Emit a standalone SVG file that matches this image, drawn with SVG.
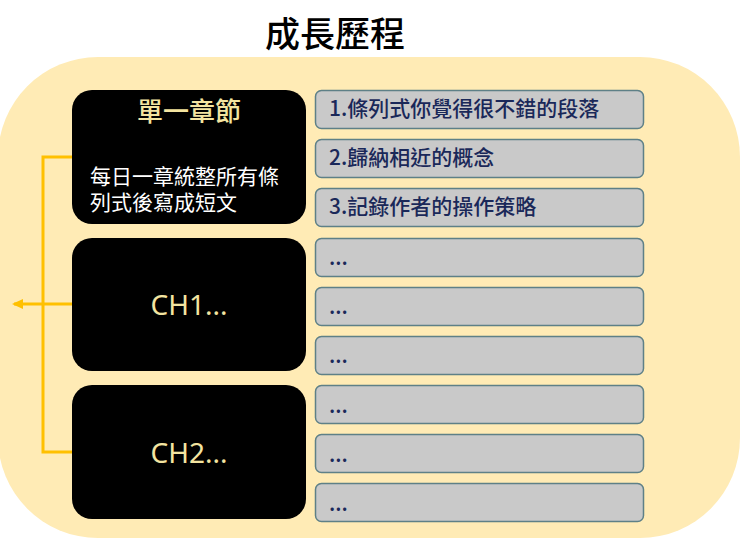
<svg xmlns="http://www.w3.org/2000/svg" width="740" height="541" viewBox="0 0 740 541">
<defs>
<style>
.cjk{font-family:"Noto Sans CJK TC","Noto Sans",sans-serif}
.blk{fill:#000}
.gry{fill:#C9C9C9;stroke:#5E8087;stroke-width:1.5}
.gt{font-size:21px;font-weight:500;fill:#1A2859}
.yt{fill:#F3E4A0;text-anchor:middle}
.conn{fill:none;stroke:#FFC000;stroke-width:3}
</style>
<marker id="arr" markerWidth="12" markerHeight="12" refX="9" refY="6" orient="auto" markerUnits="userSpaceOnUse">
<path d="M0,1 L11,6 L0,11 Z" fill="#FFC000"/>
</marker>
</defs>
<rect width="740" height="541" fill="#fff"/>
<text class="cjk" x="335" y="47" font-size="35" font-weight="500" text-anchor="middle" fill="#000">成長歷程</text>
<rect x="-2" y="57" width="742" height="481" rx="100" fill="#FFEBB5"/>
<g id="connectors">
<polyline class="conn" points="72,157 43,157 43,452 72,452"/>
<line class="conn" x1="72" y1="304" x2="14" y2="304" marker-end="url(#arr)"/>
</g>
<g id="ch0">
<rect class="blk" x="72" y="90" width="234" height="134" rx="20"/>
<text class="cjk yt" x="189" y="121" font-size="26" font-weight="500">單一章節</text>
<text class="cjk" font-size="21" fill="#fff"><tspan x="90" y="184">每日一章統整所有條</tspan><tspan x="90" y="210">列式後寫成短文</tspan></text>
</g>
<g id="ch1">
<rect class="blk" x="72" y="238" width="234" height="133" rx="20"/>
<text class="yt" x="189" y="315" font-size="28" font-family="Noto Sans, sans-serif">CH1...</text>
</g>
<g id="ch2">
<rect class="blk" x="72" y="385" width="234" height="134" rx="20"/>
<text class="yt" x="189" y="463" font-size="28" font-family="Noto Sans, sans-serif">CH2...</text>
</g>
<g id="item1"><rect class="gry" x="315.5" y="90.5" width="328" height="38" rx="6"/><text class="cjk gt" x="329" y="116">1.條列式你覺得很不錯的段落</text></g>
<g id="item2"><rect class="gry" x="315.5" y="139.5" width="328" height="38" rx="6"/><text class="cjk gt" x="329" y="165">2.歸納相近的概念</text></g>
<g id="item3"><rect class="gry" x="315.5" y="188.5" width="328" height="38" rx="6"/><text class="cjk gt" x="329" y="214">3.記錄作者的操作策略</text></g>
<g id="item4"><rect class="gry" x="315.5" y="238.5" width="328" height="38" rx="6"/><text class="cjk gt" x="329" y="265">...</text></g>
<g id="item5"><rect class="gry" x="315.5" y="287.5" width="328" height="38" rx="6"/><text class="cjk gt" x="329" y="314">...</text></g>
<g id="item6"><rect class="gry" x="315.5" y="336.5" width="328" height="38" rx="6"/><text class="cjk gt" x="329" y="363">...</text></g>
<g id="item7"><rect class="gry" x="315.5" y="385.5" width="328" height="38" rx="6"/><text class="cjk gt" x="329" y="413">...</text></g>
<g id="item8"><rect class="gry" x="315.5" y="434.5" width="328" height="38" rx="6"/><text class="cjk gt" x="329" y="462">...</text></g>
<g id="item9"><rect class="gry" x="315.5" y="483.5" width="328" height="38" rx="6"/><text class="cjk gt" x="329" y="511">...</text></g>
</svg>
